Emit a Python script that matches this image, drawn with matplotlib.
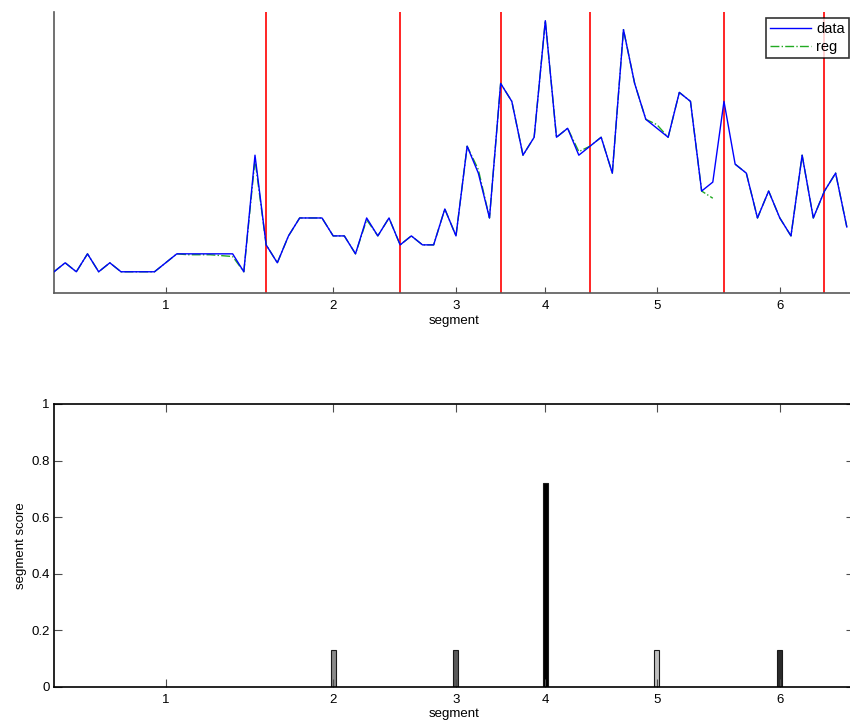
import numpy as np
import matplotlib.pyplot as plt

plt.rcParams['font.family'] = ['Liberation Sans', 'DejaVu Sans']

# signal samples (index 1..72)
data = [1, 2, 1, 3, 1, 2, 1, 1, 1, 1,
        2, 3, 3, 3, 3, 3, 3, 1, 14, 4,
        2, 5, 7, 7, 7, 5, 5, 3, 7, 5,
        7, 4, 5, 4, 4, 8, 5, 15, 12, 7,
        22, 20, 14, 16, 29, 16, 17, 14, 15, 16,
        12, 28, 22, 18, 17, 16, 21, 20, 10, 11,
        20, 13, 12, 7, 10, 7, 5, 14, 7, 10,
        12, 6]
# piecewise regression (mostly overlapping the data)
reg = [1, 2, 1, 3, 1, 2, 1, 1, 1, 1,
       2, 3, 2.9, 2.9, 2.9, 2.8, 2.7, 1, 13.5, 4,
       2, 5, 7, 7, 7, 5, 5, 3, 6.8, 5,
       7, 4, 5, 4, 4, 8, 5, 15, 12.4, 7,
       22, 20, 14, 16, 29, 16, 17, 14.4, 15, 16,
       12, 28, 22, 18, 17.4, 16, 21, 20, 10, 9.2,
       np.nan, 13, 12, 7, 10, 7, 5, 14, 7, 10,
       12, 6]
boundaries = [20, 32, 41, 49, 61, 70]
seg_centers = [11, 26, 37, 45, 55, 66]
seg_labels = ['1', '2', '3', '4', '5', '6']
scores = [0.0, 0.13, 0.13, 0.72, 0.13, 0.13]
bar_colors = ['#ffffff', '#8a8a8a', '#5a5a5a', '#000000', '#c0c0c0', '#2a2a2a']

x = np.arange(1, len(data) + 1)
xmax = 72.6

fig = plt.figure(figsize=(8.5, 7.27), dpi=100)

# top: signal with segment boundaries
ax1 = fig.add_axes([54 / 850, 1 - 293.3 / 727, (853.5 - 54) / 850, (293.3 - 11.7) / 727])
l1, = ax1.plot(x, data, color='#0000ff', lw=1.0, zorder=3, label='data')
l2, = ax1.plot(x, reg, color='#22aa22', lw=1.0, ls='-.', zorder=2, label='reg')
for b in boundaries:
    ax1.axvline(b, color='red', lw=1.2, zorder=1)
ax1.set_xlim(1, xmax)
ax1.set_ylim(-1.4, 30)
ax1.set_yticks([])
ax1.set_xticks(seg_centers)
ax1.set_xticklabels(seg_labels)
ax1.set_xlabel('segment', fontsize=9.5, labelpad=2)
ax1.tick_params(axis='x', direction='in', length=4, labelsize=9.5, pad=5, color='0.3')
for s in ['top', 'right']:
    ax1.spines[s].set_visible(False)
for s in ['left', 'bottom']:
    ax1.spines[s].set_color('0.35')
    ax1.spines[s].set_linewidth(1.2)

leg = fig.legend(handles=[l1, l2], loc='upper left',
                 bbox_to_anchor=(766 / 850, 1 - 17.7 / 727),
                 fontsize=10.5, handlelength=2.8, handletextpad=0.35,
                 borderpad=0.3, labelspacing=0.25, borderaxespad=0,
                 frameon=True, fancybox=False)
leg.get_frame().set_edgecolor('black')
leg.get_frame().set_linewidth(1.2)
leg.set_zorder(5)

# bottom: segment scores
ax2 = fig.add_axes([54 / 850, 1 - 686.7 / 727, (853.5 - 54) / 850, (686.7 - 404) / 727])
ax2.bar(seg_centers, scores, width=0.45, color=bar_colors, edgecolor='0.1', linewidth=0.8)
ax2.set_xlim(1, xmax)
ax2.set_ylim(0, 1)
ax2.set_xticks(seg_centers)
ax2.set_xticklabels(seg_labels)
ax2.set_yticks([0, 0.2, 0.4, 0.6, 0.8, 1])
ax2.set_yticklabels(['0', '0.2', '0.4', '0.6', '0.8', '1'])
ax2.set_xlabel('segment', fontsize=9.5, labelpad=2)
ax2.set_ylabel('segment score', fontsize=9.5, labelpad=3)
ax2.tick_params(axis='both', direction='in', length=6, labelsize=9.5,
                top=True, right=True, color='0.3')
ax2.tick_params(axis='x', pad=5)
ax2.tick_params(axis='y', pad=3)
for s in ax2.spines.values():
    s.set_linewidth(1.2)
    s.set_color('black')

fig.savefig('out.png', dpi=100)
